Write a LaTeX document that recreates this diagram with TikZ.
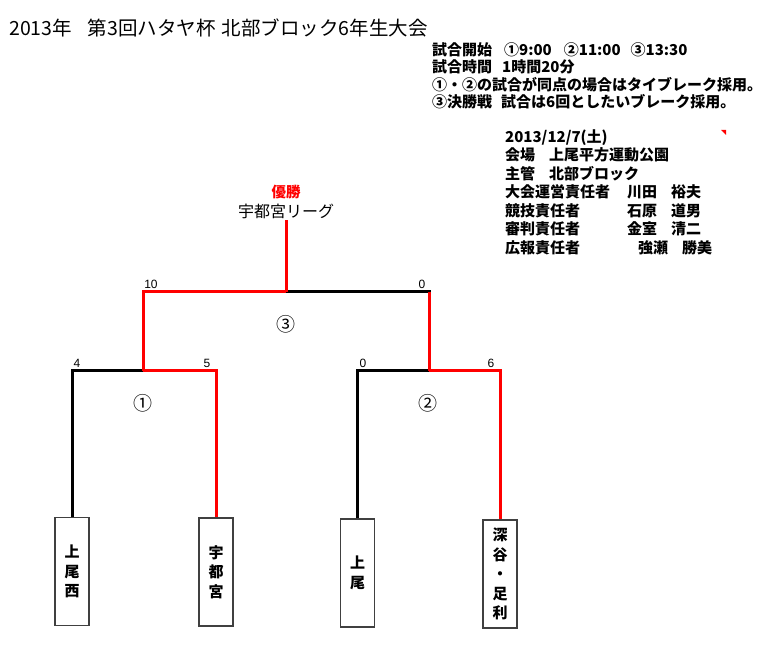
\documentclass[tikz,border=0pt]{standalone}
\usepackage{fontspec}
\setmainfont{Noto Sans CJK JP}
\newfontfamily\scorefont{Liberation Sans}
\definecolor{winred}{RGB}{255,0,0}

\begin{document}
\begin{tikzpicture}[x=1pt,y=-1pt,
	team/.style={draw=black!75, line width=1.2pt, fill=white, minimum width=34pt, minimum height=108pt, inner sep=0pt, align=center, font=\fontsize{15}{19.5}\selectfont\bfseries},
	win/.style={winred, line width=3pt},
	lose/.style={black, line width=3pt},
	score/.style={font=\scorefont\fontsize{12}{12}\selectfont, anchor=base},
	match/.style={font=\fontsize{19}{19}\selectfont},
	info/.style={anchor=north west, align=left, inner sep=0pt, font=\fontsize{15}{17.5}\selectfont\bfseries}]
	\useasboundingbox (0,0) rectangle (780,663);
	
	\node[anchor=base west, inner sep=0pt, font=\fontsize{19.5}{19.5}\selectfont] (title) at (9,36) {2013年\hspace{16pt}第3回ハタヤ杯\hspace{6pt}北部ブロック6年生大会};
	
	\node[info] (rules) at (432,42) {試合開始\hspace{12pt}①9:00\hspace{12pt}②11:00\hspace{10pt}③13:30\\ 試合時間\hspace{10pt}1時間20分\\ ①・②の試合が同点の場合はタイブレーク採用。\\ ③決勝戦\hspace{9pt}試合は6回としたいブレーク採用。};
	
	\node[info, font=\fontsize{15}{18.5}\selectfont\bfseries] (staff) at (505,129) {2013/12/7(土)\\ 会場\hspace{14pt}上尾平方運動公園\\ 主管\hspace{14pt}北部ブロック\\ \makebox[122pt][l]{大会運営責任者}川田\hspace{14pt}裕夫\\ \makebox[122pt][l]{競技責任者}石原\hspace{14pt}道男\\ \makebox[122pt][l]{審判責任者}金室\hspace{14pt}清二\\ \makebox[133pt][l]{広報責任者}強瀬\hspace{14pt}勝美};
	\fill[winred] (721,130) -- (726,130) -- (726,135) -- cycle;
	
	% teams
	\node[team] (ageonishi) at (72,571.5) {上\\尾\\西};
	\node[team] (utsunomiya) at (216,572) {宇\\都\\宮};
	\node[team] (ageo) at (357.5,573) {上\\尾};
	\node[team] (fukaya) at (500,574) {深\\谷\\・\\足\\利};
	
	\coordinate (m1) at (143,371);
	\coordinate (m2) at (429,371);
	\coordinate (fin) at (286,292);
	
	\node[inner sep=0pt, font=\fontsize{14.5}{14.5}\selectfont\bfseries, text=winred] (yusho) at (286,192) {優勝};
	\node[inner sep=0pt, font=\fontsize{16}{16}\selectfont] (champ) at (286,211) {宇都宮リーグ};
	
	% match 1
	\draw[lose] (ageonishi.north) |- (m1);
	\draw[win] (m1) -| (utsunomiya.north);
	% match 2
	\draw[lose] (ageo.north) |- (m2);
	\draw[win] (m2) -| (fukaya.north);
	% final
	\draw[win] (m1) |- (fin);
	\draw[lose] (fin) -| (m2);
	\draw[win] (fin) -- (champ.south |- 0,220);
	\draw[win] (m2) -- (m2 |- fin);
	
	\node[score] (s1) at (77,367) {4};
	\node[score] (s2) at (207,367) {5};
	\node[score] (s3) at (363,367) {0};
	\node[score] (s4) at (491,367) {6};
	\node[score] (s5) at (151,289) {10};
	\node[score] (s6) at (422,289) {0};
	
	\node[match] (g1) at (143,403) {①};
	\node[match] (g2) at (428,403) {②};
	\node[match] (g3) at (286,324) {③};
\end{tikzpicture}
\end{document}
